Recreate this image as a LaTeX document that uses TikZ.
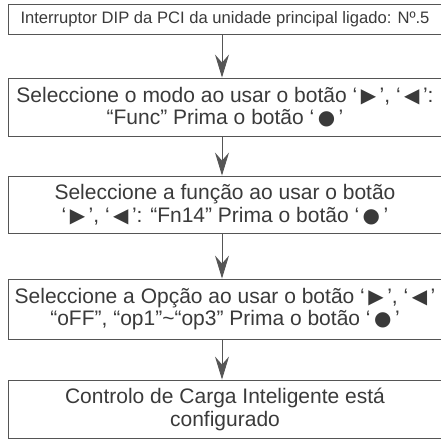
\documentclass[tikz,border=0pt]{standalone}
\usepackage{fontspec}
\setmainfont{Liberation Sans}
\newfontfamily\symf{DejaVu Sans}
\usetikzlibrary{arrows.meta}
\definecolor{txt}{HTML}{3A3A3A}
\definecolor{brd}{HTML}{555555}
\newcommand{\rtri}{{\symf\scalebox{0.95}{▶}}}
\newcommand{\ltri}{{\symf\scalebox{0.95}{◀}}}
\newcommand{\bdot}{{\symf\scalebox{0.95}{●}}}
\begin{document}
\begin{tikzpicture}[x=1pt,y=1pt,
  box/.style={draw=brd,line width=0.9pt,rectangle,minimum width=434pt,inner sep=0pt,align=center,text=txt,font=\fontsize{21}{22.5}\selectfont},
  arr/.style={draw=brd,line width=0.9pt,-{Stealth[length=23pt,width=14pt,inset=8pt]}}]
\useasboundingbox (0,0) rectangle (441,439);
\clip (0,0) rectangle (441,439);
\node[box,minimum height=30pt,font=\fontsize{16.6}{18}\selectfont] (b1) at (225,420) {Interruptor DIP da PCI da unidade principal ligado: Nº.5};
\node[box,minimum height=58pt] (b2) at (225,332) {Seleccione o modo ao usar o botão ‘\,\rtri\,’, ‘\,\ltri\,’:\\“Func” Prima o botão ‘\,\bdot\,’};
\node[box,minimum height=57pt] (b3) at (225,234.5) {Seleccione a função ao usar o botão\\‘\,\rtri\,’, ‘\,\ltri\,’: “Fn14” Prima o botão ‘\,\bdot\,’};
\node[box,minimum height=60pt] (b4) at (225,130) {Seleccione a Opção ao usar o botão ‘\,\rtri\,’, ‘\,\ltri\,’\\“oFF”, “op1”\textasciitilde“op3” Prima o botão ‘\,\bdot\,’};
\node[box,minimum height=58.5pt] (b5) at (225,29.75) {Controlo de Carga Inteligente está\\configurado};
\draw[arr] ([xshift=-3pt]b1.south) -- ([xshift=-3pt]b2.north);
\draw[arr] ([xshift=-3pt]b2.south) -- ([xshift=-3pt]b3.north);
\draw[arr] ([xshift=-3pt]b3.south) -- ([xshift=-3pt]b4.north);
\draw[arr] ([xshift=-3pt]b4.south) -- ([xshift=-3pt]b5.north);
\end{tikzpicture}
\end{document}
